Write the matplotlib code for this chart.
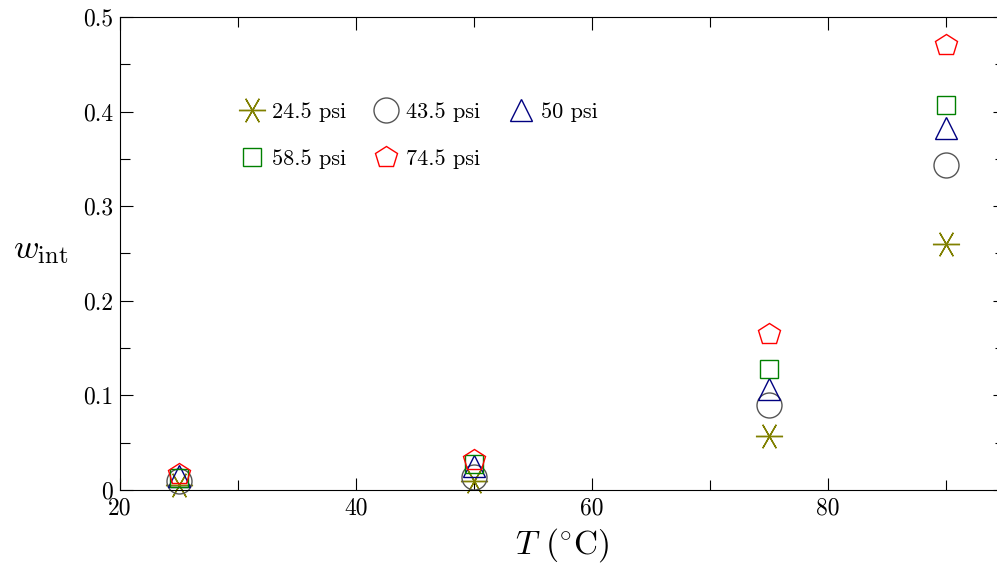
import matplotlib

matplotlib.use("Agg")
import matplotlib.pyplot as plt
from matplotlib.ticker import MultipleLocator, FuncFormatter

plt.rcParams["font.family"] = "serif"
plt.rcParams["font.serif"] = ["cmr10"]
plt.rcParams["mathtext.fontset"] = "cm"
plt.rcParams["axes.formatter.use_mathtext"] = True

# temperatures (C)
temps = [25, 50, 75, 90]

# w_int per pressure
w_245 = [0.005, 0.010, 0.057, 0.260]
w_435 = [0.010, 0.014, 0.090, 0.344]
w_50 = [0.015, 0.025, 0.107, 0.383]
w_585 = [0.013, 0.027, 0.128, 0.407]
w_745 = [0.017, 0.032, 0.165, 0.470]

labels = ["24.5 psi", "43.5 psi", "50 psi", "58.5 psi", "74.5 psi"]

W, H = 997, 567
fig = plt.figure(figsize=(W / 100, H / 100), dpi=100)
ax = fig.add_axes([120 / W, 77 / H, 885 / W, 473 / H])

styles = [
    (w_245, (6, 2, 30), "#808000", 19.5),
    (w_435, "o", "#555555", 18),
    (w_50, "^", "#000080", 16),
    (w_585, "s", "#008000", 12.5),
    (w_745, "p", "#ff0000", 16.5),
]

handles = []
for (vals, mk, col, ms), lab in zip(styles, labels):
    (h,) = ax.plot(temps, vals, linestyle="none", marker=mk, markersize=ms,
                   markerfacecolor="none", markeredgecolor=col,
                   markeredgewidth=1.0, label=lab, clip_on=False)
    handles.append(h)

ax.set_xlim(20, 95)
ax.set_ylim(0, 0.5)
ax.xaxis.set_major_locator(MultipleLocator(20))
ax.xaxis.set_minor_locator(MultipleLocator(10))
ax.yaxis.set_major_locator(MultipleLocator(0.1))
ax.yaxis.set_minor_locator(MultipleLocator(0.05))
fmt = FuncFormatter(lambda v, p: "%g" % round(v, 3))
ax.xaxis.set_major_formatter(fmt)
ax.yaxis.set_major_formatter(fmt)
ax.tick_params(which="both", direction="in", top=True, right=True, labelsize=17, pad=5)
ax.tick_params(which="major", length=9, width=0.8)
ax.tick_params(which="minor", length=7, width=0.8)

ax.set_xlabel(r"$T$ (${}^{\circ}$C)", fontsize=24, labelpad=5)
ax.set_ylabel(r"$w_{\mathrm{int}}$", fontsize=25, rotation=0, ha="center", va="center")
ax.yaxis.set_label_coords(-0.09, 0.507)

# legend filled column-wise, so reorder for row-wise layout
order = [0, 3, 1, 4, 2]
ax.legend([handles[i] for i in order], [labels[i] for i in order], ncol=3,
          loc="upper left", bbox_to_anchor=(241 / W, 1 - 102 / H),
          bbox_transform=fig.transFigure, frameon=False, fontsize=16,
          handlelength=1.0, handletextpad=0.4, columnspacing=1.3,
          labelspacing=1.25, borderpad=0, borderaxespad=0)

fig.savefig("out.png", dpi=100)
